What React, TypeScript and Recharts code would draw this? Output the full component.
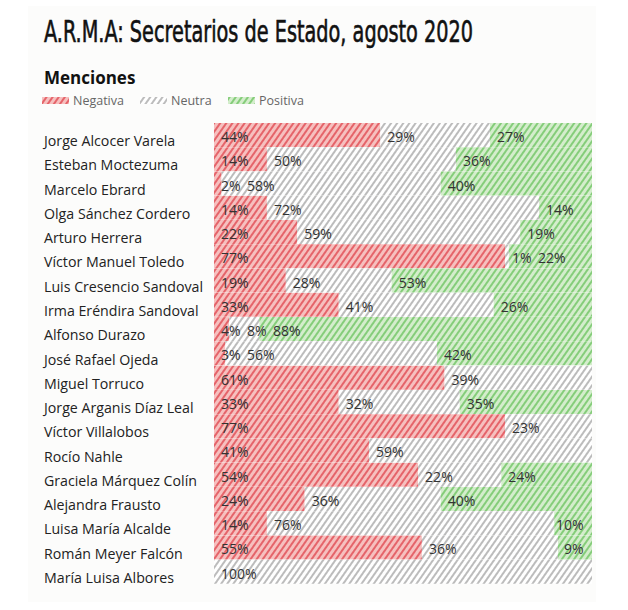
import React from 'react';
import { BarChart, Bar, XAxis, YAxis, LabelList } from 'recharts';

const names = [
  'Jorge Alcocer Varela',
  'Esteban Moctezuma',
  'Marcelo Ebrard',
  'Olga Sánchez Cordero',
  'Arturo Herrera',
  'Víctor Manuel Toledo',
  'Luis Cresencio Sandoval',
  'Irma Eréndira Sandoval',
  'Alfonso Durazo',
  'José Rafael Ojeda',
  'Miguel Torruco',
  'Jorge Arganis Díaz Leal',
  'Víctor Villalobos',
  'Rocío Nahle',
  'Graciela Márquez Colín',
  'Alejandra Frausto',
  'Luisa María Alcalde',
  'Román Meyer Falcón',
  'María Luisa Albores',
];
const negativa = [44, 14, 2, 14, 22, 77, 19, 33, 4, 3, 61, 33, 77, 41, 54, 24, 14, 55, 0];
const neutra = [29, 50, 58, 72, 59, 1, 28, 41, 8, 56, 39, 32, 23, 59, 22, 36, 76, 36, 100];
const positiva = [27, 36, 40, 14, 19, 22, 53, 26, 88, 42, 0, 35, 0, 0, 24, 40, 10, 9, 0];
const seriesLabels = ['Negativa', 'Neutra', 'Positiva'];
const titleText = 'A.R.M.A: Secretarios de Estado, agosto 2020';
const subtitleText = 'Menciones';

const keys = ['neg', 'neu', 'pos'];
const data = names.map((name, i) => ({ name, neg: negativa[i], neu: neutra[i], pos: positiva[i] }));

const FONT = "'Open Sans', 'Noto Sans', sans-serif";
const LABEL_FS = 14;

const colors = {
  neg: { bg: '#f6c0bf', fg: '#e5646a' },
  neu: { bg: '#ffffff', fg: '#bcbcbc' },
  pos: { bg: '#d4edcc', fg: '#85cd7a' },
};

const textW = (v: number) => String(v).length * 8 + 12;

const makeLabel = (key: string) => (props: any) => {
  const { x, y, width, height, value } = props;
  const row: any = data.find((d) => d.name === value);
  if (!row) return null;
  const v = row[key];
  if (!v) return null;
  const k = width / v;
  const idx = keys.indexOf(key);
  let prevSum = 0;
  for (let j = 0; j < idx; j++) prevSum += row[keys[j]];
  const left = x - prevSum * k;
  const right = left + 100 * k;
  let lx = 0;
  let lastEnd = -Infinity;
  let acc = 0;
  for (let j = 0; j <= idx; j++) {
    const vj = row[keys[j]];
    const s = left + acc * k;
    acc += vj;
    if (!vj) continue;
    lx = Math.max(s + 7, lastEnd + 6);
    lastEnd = lx + textW(vj);
  }
  lx = Math.min(lx, right - textW(v) - 8);
  return (
    <text x={lx} y={y + height / 2 + 7} fontSize={LABEL_FS} fontFamily={FONT} fill="#333">
      {v}%
    </text>
  );
};

const NameTick = (props: any) => {
  const { y, payload } = props;
  return (
    <text x={44} y={y + 11} fontSize={14.2} fontFamily={FONT} fill="#222">
      {payload.value}
    </text>
  );
};

const Patterns = ({ prefix }: { prefix: string }) => (
  <defs>
    {keys.map((k) => (
      <pattern
        key={k}
        id={`${prefix}${k}`}
        patternUnits="userSpaceOnUse"
        width={5}
        height={5}
        patternTransform="rotate(35)"
      >
        <rect width={5} height={5} fill={(colors as any)[k].bg} />
        <rect width={2} height={5} fill={(colors as any)[k].fg} />
      </pattern>
    ))}
  </defs>
);

const LegendBox = () => {
  const xs = [42, 140, 228];
  return (
    <svg width={340} height={16} style={{ position: 'absolute', left: 0, top: 92 }}>
      <Patterns prefix="lg" />
      {keys.map((k, i) => (
        <g key={k}>
          <rect x={xs[i]} y={5} width={27} height={7} fill={`url(#lg${k})`} />
          <text x={xs[i] + 31} y={13} fontSize={12.5} fontFamily={FONT} fill="#666">
            {seriesLabels[i]}
          </text>
        </g>
      ))}
    </svg>
  );
};

export default function App() {
  return (
    <div style={{ position: 'absolute', left: 0, top: 0, width: 628, height: 610, background: '#fff' }}>
      <div
        style={{
          position: 'absolute',
          left: 28,
          top: 6,
          width: 568,
          height: 596,
          background: '#fcfcfb',
        }}
      />
      <svg width={628} height={90} style={{ position: 'absolute', left: 0, top: 0 }}>
        <text
          x={44}
          y={42}
          fontSize={30}
          textLength={429}
          lengthAdjust="spacingAndGlyphs"
          fontFamily="'Liberation Sans Narrow', 'DejaVu Sans Condensed', 'Roboto', sans-serif"
          fill="#111"
          stroke="#111"
          strokeWidth={0.6}
        >
          {titleText}
        </text>
        <text x={44} y={84} fontSize={17} fontWeight="bold" fontFamily={FONT} fill="#111">
          {subtitleText}
        </text>
      </svg>
      <LegendBox />
      <div style={{ position: 'absolute', left: 0, top: 0 }}>
        <BarChart
          width={628}
          height={610}
          data={data}
          layout="vertical"
          margin={{ top: 123, right: 36, bottom: 26, left: 0 }}
          barCategoryGap={0}
        >
          <Patterns prefix="p" />
          <XAxis type="number" domain={[0, 100]} hide allowDataOverflow />
          <YAxis
            type="category"
            dataKey="name"
            width={214}
            axisLine={false}
            tickLine={false}
            tick={<NameTick />}
            interval={0}
          />
          {keys.map((k, i) => (
            <Bar
              key={k}
              dataKey={k}
              name={seriesLabels[i]}
              stackId="a"
              fill={`url(#p${k})`}
              isAnimationActive={false}
            >
              <LabelList dataKey="name" content={makeLabel(k)} />
            </Bar>
          ))}
        </BarChart>
      </div>
    </div>
  );
}
